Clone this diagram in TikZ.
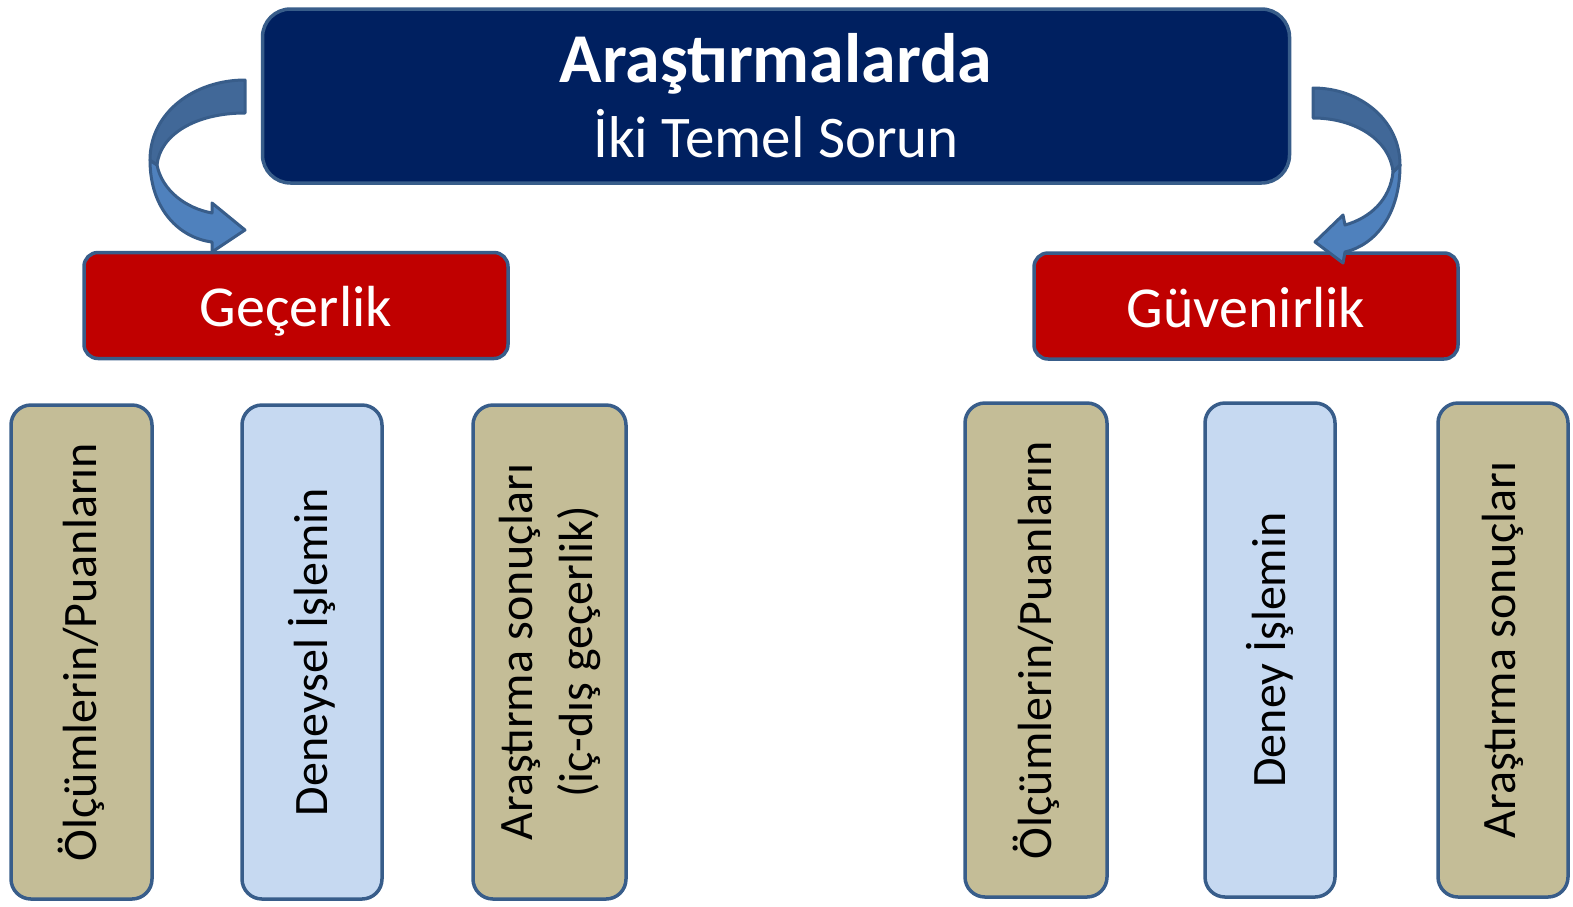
\documentclass[tikz,border=0pt]{standalone}
\usepackage{fontspec}
\setmainfont{Carlito}
\usetikzlibrary{positioning}
\definecolor{navy}{RGB}{0,32,96}
\definecolor{edgeblue}{RGB}{56,93,138}
\definecolor{redbox}{RGB}{192,0,0}
\definecolor{tanbox}{RGB}{196,189,151}
\definecolor{paleblue}{RGB}{198,217,241}
\definecolor{arrowdark}{RGB}{65,104,152}
\definecolor{arrowlight}{RGB}{79,129,189}
\tikzset{
  box/.style={draw=edgeblue,line width=3.5pt,rounded corners=20pt,inner sep=0pt},
  titlebox/.style={box,fill=navy,text=white,minimum width=1027pt,
    minimum height=174pt,rounded corners=28pt,align=center,
    font=\fontsize{59}{75}\selectfont},
  headbox/.style={box,fill=redbox,text=white,minimum width=424pt,
    minimum height=106pt,rounded corners=14pt,text height=50pt,text depth=8pt,
    font=\fontsize{58}{60}\selectfont},
  itembox/.style={box,rotate=90,minimum width=494pt,align=center,
    font=\fontsize{48}{60}\selectfont},
  bentarrow/.style={draw=edgeblue,line width=3pt,line join=round},
}

\begin{document}
\begin{tikzpicture}[x=1pt,y=-1pt]
  \useasboundingbox (0,0) rectangle (1573,906);
  % title and the two problems
  \node[titlebox] (title) at (776,96)
    {{\fontsize{70}{75}\selectfont\bfseries Araştırmalarda}\\
     İki Temel Sorun};
  \node[headbox] (valid) at (296,305.5) {Geçerlik};
  \node[headbox] (reliab) at (1246,306) {Güvenirlik};
  % items under Geçerlik
  \node[itembox,fill=tanbox,minimum height=141pt] (v1) at (81.5,652)
    {Ölçümlerin/Puanların};
  \node[itembox,fill=paleblue,minimum height=140pt] (v2) at (312,652)
    {Deneysel İşlemin};
  \node[itembox,fill=tanbox,minimum height=153pt] (v3) at (549.5,652)
    {Araştırma sonuçları\\(iç-dış geçerlik)};
  % items under Güvenirlik
  \node[itembox,fill=tanbox,minimum height=142pt] (r1) at (1036,650)
    {Ölçümlerin/Puanların};
  \node[itembox,fill=paleblue,minimum height=130pt] (r2) at (1270,650)
    {Deney İşlemin};
  \node[itembox,fill=tanbox,minimum height=130pt] (r3) at (1503,650)
    {Araştırma sonuçları};
  % left curved arrow
  \draw[bentarrow,fill=arrowlight] (150,160) .. controls (150,210) and (180,238) .. (212,242)
    -- (212,252) -- (245,230) -- (212,203) -- (212,213)
    .. controls (185,208) and (162,190) .. (157,165) -- cycle;
  \draw[bentarrow,fill=arrowdark] (245,80) .. controls (195,80) and (150,112) .. (150,160)
    -- (157,165) .. controls (160,135) and (195,113) .. (245,113) -- cycle;
  % right curved arrow
  \draw[bentarrow,fill=arrowlight] (1400,165) .. controls (1400,215) and (1375,245) .. (1345,252)
    -- (1343,263) -- (1315,242) -- (1343,215) -- (1345,225)
    .. controls (1370,218) and (1390,200) .. (1393,172) -- cycle;
  \draw[bentarrow,fill=arrowdark] (1313,88) .. controls (1360,88) and (1400,120) .. (1400,165)
    -- (1393,172) .. controls (1390,140) and (1355,118) .. (1313,118) -- cycle;
\end{tikzpicture}
\end{document}
